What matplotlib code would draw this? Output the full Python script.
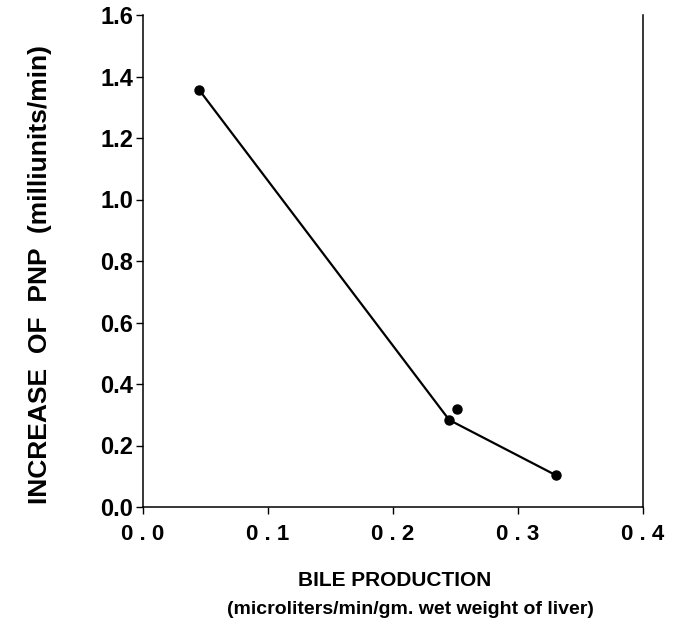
import matplotlib
matplotlib.use("Agg")
import matplotlib.pyplot as plt

# data
line_x = [0.045, 0.245, 0.330]
line_y = [1.356, 0.283, 0.104]
extra_x = [0.251]
extra_y = [0.319]

xticks = [0.0, 0.1, 0.2, 0.3, 0.4]
xtick_labels = ["0 . 0", "0 . 1", "0 . 2", "0 . 3", "0 . 4"]
yticks = [0.0, 0.2, 0.4, 0.6, 0.8, 1.0, 1.2, 1.4, 1.6]
ytick_labels = ["0.0", "0.2", "0.4", "0.6", "0.8", "1.0", "1.2", "1.4", "1.6"]

plt.rcParams['font.family'] = ['Liberation Sans', 'DejaVu Sans']
plt.rcParams['font.weight'] = 'bold'

fig = plt.figure(figsize=(6.8, 6.26), dpi=100)
ax = fig.add_axes([143/680, (626-507)/626, 500/680, (507-15)/626])

ax.plot(line_x, line_y, color='black', linewidth=1.6, marker='o', markersize=6.5)
ax.plot(extra_x, extra_y, linestyle='none', color='black', marker='o', markersize=6.5)

ax.set_xlim(0, 0.4)
ax.set_ylim(0, 1.6)
ax.set_xticks(xticks)
ax.set_xticklabels(xtick_labels, fontsize=16, fontweight='bold')
ax.set_yticks(yticks)
ax.set_yticklabels(ytick_labels, fontsize=17, fontweight='bold')
ax.tick_params(axis='both', direction='out', length=5, width=1.0, color='black')
ax.tick_params(axis='x', pad=7)
ax.tick_params(axis='y', pad=2)

ax.spines['top'].set_visible(False)
for s in ['left', 'right', 'bottom']:
    ax.spines[s].set_linewidth(1.1)

fig.text(395/680, 1 - 581/626, "BILE PRODUCTION", ha='center', va='center',
         fontsize=15, fontweight='bold')
fig.text(410/680, 1 - 610/626, "(microliters/min/gm. wet weight of liver)", ha='center',
         va='center', fontsize=14, fontweight='bold')
fig.text(40/680, 1 - 275/626, "INCREASE  OF  PNP  (milliunits/min)", rotation=90,
         ha='center', va='center', fontsize=19, fontweight='bold')

fig.savefig("out.png", dpi=100)
